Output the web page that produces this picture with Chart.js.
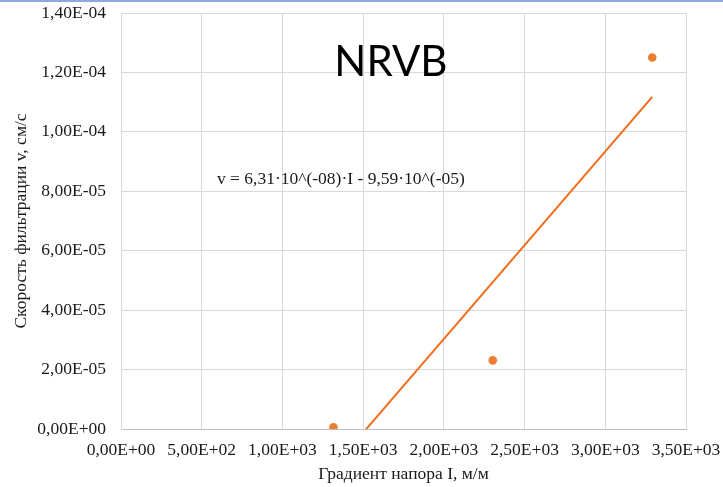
<!DOCTYPE html>
<html>
<head>
<meta charset="utf-8">
<script src="https://cdn.jsdelivr.net/npm/chart.js@4/dist/chart.umd.min.js"></script>
<style>
  html, body { margin: 0; padding: 0; background: #ffffff; }
  #wrap { position: relative; width: 723px; height: 487px; overflow: hidden; }
  #topbar { position: absolute; left: 0; top: 0; width: 723px; height: 2px; background: #8eaadb; }
  canvas { display: block; }
</style>
</head>
<body>
<div id="wrap">
  <canvas id="chart" width="723" height="487"></canvas>
  <div id="topbar"></div>
</div>
<script>
// Measured filtration velocity vs. hydraulic gradient
const gradientI = [1316, 2303, 3291];          // I, м/м
const velocity  = [5.4e-7, 2.31e-5, 1.25e-4];  // v, см/с

// Linear trend: v = slope·I + intercept
const trendSlope = 6.31e-8;
const trendIntercept = -9.59e-5;

// Axis ticks
const xTickValues = [0, 500, 1000, 1500, 2000, 2500, 3000, 3500];
const yTickValues = [0, 2e-5, 4e-5, 6e-5, 8e-5, 1e-4, 1.2e-4, 1.4e-4];

const chartTitle = 'NRVB';
const xAxisTitle = 'Градиент напора I, м/м';
const yAxisTitle = 'Скорость фильтрации v, см/с';

// "1,40E-04" style number formatting
function sciLabel(v) {
  if (v === 0) return '0,00E+00';
  let exp = Math.floor(Math.log10(Math.abs(v)));
  let mant = v / Math.pow(10, exp);
  if (Math.abs(mant) >= 9.995) { mant /= 10; exp += 1; }
  const sign = exp < 0 ? '-' : '+';
  return mant.toFixed(2).replace('.', ',') + 'E' + sign + String(Math.abs(exp)).padStart(2, '0');
}
function eqCoef(v) {
  const exp = Math.floor(Math.log10(Math.abs(v)));
  const mant = Math.abs(v) / Math.pow(10, exp);
  const e = (exp < 0 ? '-' : '') + String(Math.abs(exp)).padStart(2, '0');
  return mant.toFixed(2).replace('.', ',') + '·10^(' + e + ')';
}
const equationText = 'v = ' + eqCoef(trendSlope) + '·I ' + (trendIntercept < 0 ? '- ' : '+ ') + eqCoef(trendIntercept);

const xMin = Math.min(...gradientI), xMax = Math.max(...gradientI);
const trendPoints = [xMin, xMax].map(x => ({ x: x, y: trendSlope * x + trendIntercept }));

const serif = '"Liberation Serif", "Times New Roman", serif';
const textColor = '#1a1a1a';

const annotations = {
  id: 'annotations',
  afterDatasetsDraw(chart) {
    const { ctx, scales: { x, y } } = chart;
    ctx.save();
    ctx.fillStyle = '#000000';
    ctx.font = '42px Lato, "Open Sans", sans-serif';
    ctx.textAlign = 'center';
    ctx.textBaseline = 'alphabetic';
    ctx.fillText(chartTitle, x.getPixelForValue(1672), y.getPixelForValue(1.1866e-4));

    ctx.fillStyle = textColor;
    ctx.font = '17.5px ' + serif;
    ctx.textAlign = 'left';
    ctx.fillText(equationText, x.getPixelForValue(594), y.getPixelForValue(8.255e-5));
    ctx.restore();
  }
};

new Chart(document.getElementById('chart'), {
  type: 'scatter',
  data: {
    datasets: [
      {
        type: 'line',
        data: trendPoints,
        borderColor: '#f06d1c',
        borderWidth: 2,
        pointRadius: 0,
        fill: false,
        clip: 0,
        order: 2
      },
      {
        data: gradientI.map((x, i) => ({ x: x, y: velocity[i] })),
        backgroundColor: '#ed7d31',
        borderColor: '#ed7d31',
        pointRadius: 4.3,
        pointBorderWidth: 0,
        order: 1
      }
    ]
  },
  options: {
    responsive: false,
    animation: false,
    devicePixelRatio: 1,
    layout: { padding: { left: 0, top: 13, right: 37, bottom: 0 } },
    plugins: {
      legend: { display: false },
      tooltip: { enabled: false },
      title: { display: false }
    },
    scales: {
      x: {
        type: 'linear',
        min: 0,
        max: 3500,
        afterBuildTicks: s => { s.ticks = xTickValues.map(v => ({ value: v })); },
        afterFit: s => { s.height = 58; s.paddingLeft = 0; s.paddingRight = 0; },
        grid: { color: '#d9d9d9', drawTicks: false },
        border: { color: '#bfbfbf' },
        ticks: {
          padding: 11,
          color: textColor,
          font: { family: serif, size: 17.5 },
          maxRotation: 0,
          callback: v => sciLabel(v)
        },
        title: {
          display: true,
          text: xAxisTitle,
          color: textColor,
          font: { family: serif, size: 17.5 },
          padding: { top: 0, bottom: 2 }
        }
      },
      y: {
        type: 'linear',
        min: 0,
        max: 1.4e-4,
        afterBuildTicks: s => { s.ticks = yTickValues.map(v => ({ value: v })); },
        afterFit: s => { s.width = 121; s.paddingTop = 0; s.paddingBottom = 0; },
        grid: { color: '#d9d9d9', drawTicks: false },
        border: { color: '#d9d9d9' },
        ticks: {
          padding: 15,
          color: textColor,
          font: { family: serif, size: 17.5 },
          callback: v => sciLabel(v)
        },
        title: {
          display: true,
          text: yAxisTitle,
          color: textColor,
          font: { family: serif, size: 17.5 },
          padding: { top: 11, bottom: 0 }
        }
      }
    }
  },
  plugins: [annotations]
});
</script>
</body>
</html>
